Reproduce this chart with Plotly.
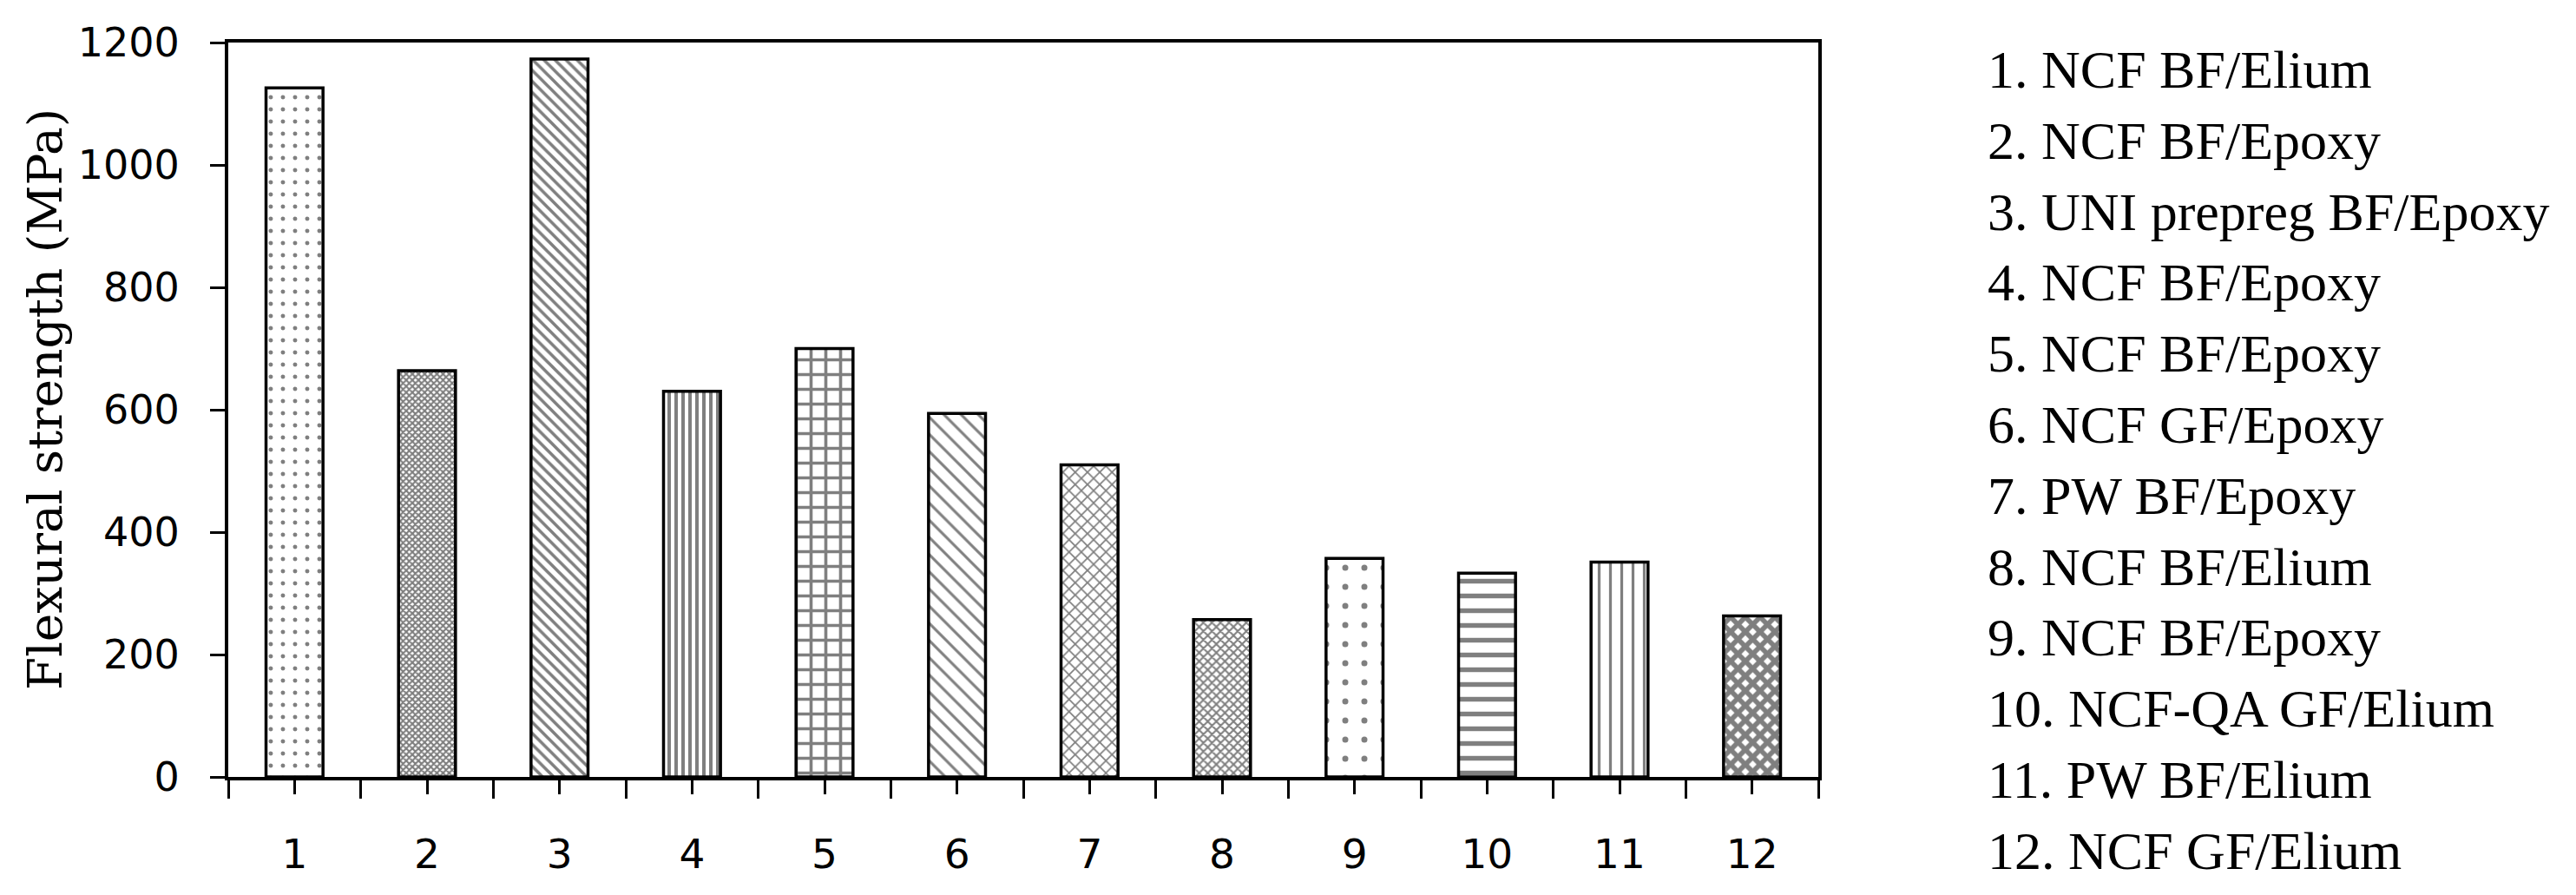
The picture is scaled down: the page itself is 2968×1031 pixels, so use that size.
import plotly.graph_objects as go

categories = [1, 2, 3, 4, 5, 6, 7, 8, 9, 10, 11, 12]
flexural_strength = [1126, 664, 1173, 630, 700, 594, 510, 257, 357, 333, 351, 263]
legend_labels = [
    "1. NCF BF/Elium",
    "2. NCF BF/Epoxy",
    "3. UNI prepreg BF/Epoxy",
    "4. NCF BF/Epoxy",
    "5. NCF BF/Epoxy",
    "6. NCF GF/Epoxy",
    "7. PW BF/Epoxy",
    "8. NCF BF/Elium",
    "9. NCF BF/Epoxy",
    "10. NCF-QA GF/Elium",
    "11. PW BF/Elium",
    "12. NCF GF/Elium",
]
y_ticks = [0, 200, 400, 600, 800, 1000, 1200]

pattern_shapes = [".", "x", "\\", "|", "+", "\\", "x", "x", ".", "-", "|", "x"]
pattern_sizes = [14, 5, 9, 8, 17, 14, 10, 7, 22, 17, 13, 12]
pattern_solidity = [0.1, 0.65, 0.4, 0.5, 0.38, 0.22, 0.32, 0.5, 0.08, 0.32, 0.25, 0.72]

# page geometry (browser body has an 8px margin)
PAGE_W, PAGE_H = 2968, 1031
BODY = 8
PLOT_L, PLOT_R, PLOT_T, PLOT_B = 263, 2095, 49, 897  # plot area in page pixels
W, H = PAGE_W - 2 * BODY, PAGE_H - 2 * BODY
L = PLOT_L - BODY
T = PLOT_T - BODY
R = W - (PLOT_R - BODY)
B = H - (PLOT_B - BODY)
PW, PH = PLOT_R - PLOT_L, PLOT_B - PLOT_T

fig = go.Figure()
fig.add_trace(go.Bar(
    x=categories,
    y=flexural_strength,
    width=0.43,
    marker=dict(
        color="white",
        line=dict(color="black", width=3.5),
        pattern=dict(
            shape=pattern_shapes,
            size=pattern_sizes,
            solidity=pattern_solidity,
            fgcolor="black",
            bgcolor="white",
            fillmode="overlay",
        ),
    ),
    showlegend=False,
))

fig.update_layout(
    width=W, height=H, autosize=False,
    margin=dict(l=L, r=R, t=T, b=B, pad=0),
    paper_bgcolor="white", plot_bgcolor="white",
)

fig.update_xaxes(
    range=[0.5, 12.5],
    tickmode="array", tickvals=categories, ticktext=[str(c) for c in categories],
    ticks="outside", ticklen=16, tickwidth=3, tickcolor="black",
    minor=dict(tickmode="array", tickvals=[c - 0.5 for c in categories] + [12.5],
               ticks="outside", ticklen=21, tickwidth=3, tickcolor="black", showgrid=False),
    showline=True, linecolor="black", linewidth=4, mirror=True,
    showgrid=False, zeroline=False,
    tickfont=dict(family="DejaVu Sans", size=47, color="black"),
    ticklabelstandoff=29,
)
fig.update_yaxes(
    range=[0, 1200],
    tickmode="array", tickvals=y_ticks,
    ticks="outside", ticklen=17, tickwidth=3, tickcolor="black",
    showline=True, linecolor="black", linewidth=4, mirror=True,
    showgrid=False, zeroline=False,
    tickfont=dict(family="DejaVu Sans", size=46, color="black"),
    ticklabelstandoff=26,
)

# y-axis title
fig.add_annotation(
    text="Flexural strength (MPa)", textangle=-90,
    xref="paper", yref="paper", x=(52 - PLOT_L) / PW, y=(PLOT_B - 461) / PH,
    xanchor="center", yanchor="middle", showarrow=False,
    font=dict(family="DejaVu Serif", size=55, color="black"),
)

# numbered legend
for i, lab in enumerate(legend_labels):
    ypix = 80 + 82.0 * i
    fig.add_annotation(
        text=lab, xref="paper", yref="paper",
        x=(2288 - PLOT_L) / PW, y=(PLOT_B - ypix) / PH,
        xanchor="left", yanchor="middle", showarrow=False,
        font=dict(family="Liberation Serif", size=62, color="black"),
    )

fig.write_html("out.html")
